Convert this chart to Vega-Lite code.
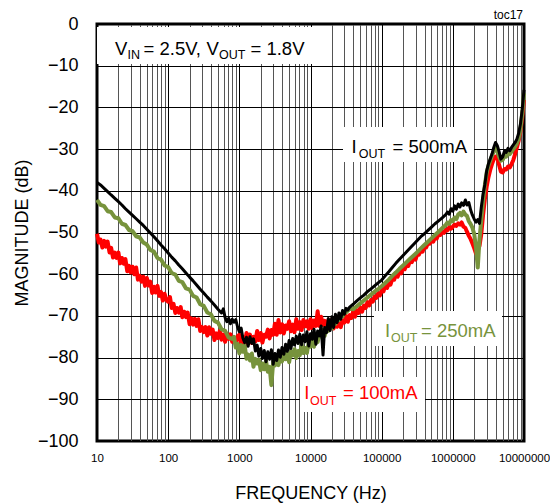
{
"$schema": "https://vega.github.io/schema/vega-lite/v6.json",
"width": 427, "height": 417,
"autosize": {"type": "none"},
"padding": {"left": 97, "top": 24, "right": 26, "bottom": 63},
"background": "white",
"config": {"font": "Liberation Sans", "view": {"stroke": "black", "strokeWidth": 3}},
"datasets": {
"boxes": [{"f":10,"f2":11570,"v":-0.72,"v2":-9.59},{"f":28630,"f2":1984000,"v":-24.7,"v2":-33.1},{"f":78030,"f2":4910000,"v":-68.8,"v2":-77.2},{"f":7120,"f2":406300,"v":-84.65,"v2":-93.05}],
"tm": [{"f":17.9,"v":-7.36,"t":"V","g":"vin"},{"f":45.03,"v":-7.36,"t":"= 2.5V,","g":"vin"},{"f":345.6,"v":-7.36,"t":"V","g":"vin"},{"f":1435,"v":-7.36,"t":"= 1.8V","g":"vin"},{"f":37800,"v":-30.94,"t":"I","g":"500"},{"f":142000,"v":-30.94,"t":"= 500mA","g":"500"},{"f":111400,"v":-75.06,"t":"I","g":"250"},{"f":357000,"v":-75.06,"t":"= 250mA","g":"250"},{"f":8180,"v":-89.93,"t":"I","g":"100"},{"f":28620,"v":-89.93,"t":"= 100mA","g":"100"}],
"ts": [{"f":26.83,"v":-8.32,"t":"IN","g":"vin"},{"f":517.9,"v":-8.32,"t":"OUT","g":"vin"},{"f":47600,"v":-32.13,"t":"OUT","g":"500"},{"f":135300,"v":-76.26,"t":"OUT","g":"250"},{"f":9840,"v":-91.25,"t":"OUT","g":"100"}],
"toc": [{"f":9680000,"v":1.2,"t":"toc17"}],
"b": [{"f":10,"v":-38},{"f":11.2,"v":-38.6},{"f":12.6,"v":-39.4},{"f":14.1,"v":-40.2},{"f":15.8,"v":-41},{"f":17.8,"v":-41.8},{"f":20,"v":-42.6},{"f":22.4,"v":-43.4},{"f":25.1,"v":-44.3},{"f":28.2,"v":-45.1},{"f":31.6,"v":-45.9},{"f":35.5,"v":-46.7},{"f":39.8,"v":-47.5},{"f":44.7,"v":-48.3},{"f":50.1,"v":-49.2},{"f":56.2,"v":-50.1},{"f":63.1,"v":-51},{"f":70.8,"v":-52},{"f":79.4,"v":-53},{"f":89.1,"v":-53.9},{"f":100,"v":-54.9},{"f":112,"v":-55.9},{"f":126,"v":-56.8},{"f":141,"v":-57.8},{"f":158,"v":-58.7},{"f":178,"v":-59.7},{"f":200,"v":-60.7},{"f":224,"v":-61.6},{"f":251,"v":-62.6},{"f":282,"v":-63.6},{"f":316,"v":-64.5},{"f":355,"v":-65.5},{"f":398,"v":-66.4},{"f":447,"v":-67.4},{"f":501,"v":-68.4},{"f":562,"v":-69.3},
{"f":596,"v":-68.3},{"f":631,"v":-70.4},{"f":668,"v":-71.4},{"f":708,"v":-70.6},{"f":750,"v":-71.9},{"f":794,"v":-70.8},{"f":841,"v":-71.5},{"f":891,"v":-70.9},{"f":944,"v":-72.6},{"f":1000,"v":-73.8},{"f":1060,"v":-72.9},{"f":1120,"v":-75.3},{"f":1190,"v":-76.4},{"f":1260,"v":-75.1},{"f":1330,"v":-77.3},{"f":1410,"v":-75},{"f":1500,"v":-76.6},{"f":1580,"v":-75.5},{"f":1680,"v":-78.4},{"f":1780,"v":-77},{"f":1880,"v":-79.6},{"f":2000,"v":-77.8},{"f":2110,"v":-80.2},{"f":2240,"v":-78.3},{"f":2370,"v":-81},{"f":2510,"v":-78.6},{"f":2660,"v":-80.4},{"f":2820,"v":-78.1},{"f":2990,"v":-81.6},{"f":3160,"v":-79},{"f":3350,"v":-80.7},{"f":3550,"v":-78.2},{"f":3760,"v":-79.9},{"f":3980,"v":-77.6},{"f":4220,"v":-79.2},{"f":4470,"v":-76.8},{"f":4730,"v":-78.5},{"f":5010,"v":-75.9},{"f":5310,"v":-77.8},{"f":5620,"v":-75.4},{"f":5960,"v":-77},{"f":6310,"v":-74.9},{"f":6680,"v":-76.6},{"f":7080,"v":-74.4},{"f":7500,"v":-76.9},{"f":7940,"v":-74.6},{"f":8410,"v":-76.2},{"f":8910,"v":-73.8},{"f":9440,"v":-77.2},{"f":10000,"v":-74.3},{"f":10600,"v":-75.6},{"f":11200,"v":-73.2},{"f":11900,"v":-76.8},{"f":12600,"v":-73.6},{"f":13300,"v":-74.8},{"f":14100,"v":-72.4},{"f":15000,"v":-79.4},{"f":15800,"v":-72.8},{"f":16800,"v":-74},{"f":17800,"v":-70.6},{"f":18800,"v":-73.5},{"f":20000,"v":-70.2},{"f":21100,"v":-72.8},{"f":22400,"v":-69.6},{"f":23700,"v":-71.6},{"f":25100,"v":-69.3},{"f":26600,"v":-70.8},{"f":28200,"v":-68.7},{"f":29900,"v":-69.6},{"f":31600,"v":-68.2},{"f":33500,"v":-68.6},{"f":35500,"v":-67.9},
{"f":39800,"v":-67.2},{"f":44700,"v":-66.4},{"f":50100,"v":-65.7},{"f":56200,"v":-65},{"f":63100,"v":-64.2},{"f":70800,"v":-63.5},{"f":79400,"v":-62.8},{"f":89100,"v":-62.1},{"f":100000,"v":-61.4},{"f":112000,"v":-60.4},{"f":126000,"v":-59.4},{"f":141000,"v":-58.4},{"f":158000,"v":-57.4},{"f":178000,"v":-56.4},{"f":200000,"v":-55.5},{"f":224000,"v":-54.6},{"f":251000,"v":-53.7},{"f":282000,"v":-52.8},{"f":316000,"v":-51.9},{"f":355000,"v":-51},{"f":398000,"v":-50.3},{"f":447000,"v":-49.5},{"f":501000,"v":-48.7},{"f":562000,"v":-47.9},{"f":631000,"v":-47.2},{"f":708000,"v":-46.5},{"f":794000,"v":-45.7},
{"f":841000,"v":-45.1},{"f":891000,"v":-45.6},{"f":944000,"v":-44.3},{"f":1000000,"v":-44.9},{"f":1060000,"v":-43.6},{"f":1120000,"v":-44.4},{"f":1190000,"v":-43.2},{"f":1260000,"v":-43.9},{"f":1330000,"v":-42.9},{"f":1410000,"v":-43.5},{"f":1500000,"v":-42.2},{"f":1580000,"v":-43.4},{"f":1680000,"v":-42.8},{"f":1780000,"v":-44.6},{"f":1880000,"v":-45.8},{"f":2000000,"v":-46.8},{"f":2110000,"v":-47.5},{"f":2240000,"v":-46.9},{"f":2370000,"v":-47.8},{"f":2510000,"v":-44},{"f":2660000,"v":-40.8},{"f":2820000,"v":-38.5},{"f":2990000,"v":-35.2},{"f":3160000,"v":-33.6},{"f":3350000,"v":-32.4},{"f":3550000,"v":-31.2},{"f":3760000,"v":-29.6},{"f":3980000,"v":-28.4},{"f":4220000,"v":-29.2},{"f":4470000,"v":-30.6},{"f":4730000,"v":-32.4},{"f":5010000,"v":-31.9},{"f":5310000,"v":-30.5},{"f":5620000,"v":-30.8},{"f":5960000,"v":-29.8},{"f":6310000,"v":-30.4},{"f":6680000,"v":-29.6},{"f":7080000,"v":-29},{"f":7500000,"v":-28.4},{"f":7940000,"v":-27.6},{"f":8410000,"v":-26.2},{"f":8910000,"v":-24},{"f":9440000,"v":-20.5},{"f":10000000,"v":-15.8}],
"g": [{"f":10,"v":-42.2},{"f":11.2,"v":-43.4},{"f":12.6,"v":-43.7},{"f":14.1,"v":-44.9},{"f":15.8,"v":-45.1},{"f":17.8,"v":-46.4},{"f":20,"v":-46.6},{"f":22.4,"v":-47.9},{"f":25.1,"v":-48.2},{"f":28.2,"v":-49.4},{"f":31.6,"v":-49.7},{"f":35.5,"v":-50.9},{"f":39.8,"v":-51.2},{"f":44.7,"v":-52.4},{"f":50.1,"v":-52.9},{"f":56.2,"v":-54.2},{"f":63.1,"v":-54.6},{"f":70.8,"v":-56.1},{"f":79.4,"v":-56.5},{"f":89.1,"v":-57.9},{"f":100,"v":-58.3},{"f":112,"v":-59.7},{"f":126,"v":-60.1},{"f":141,"v":-61.6},{"f":158,"v":-61.9},{"f":178,"v":-63.4},{"f":200,"v":-63.7},{"f":224,"v":-65.2},{"f":251,"v":-65.6},{"f":282,"v":-67.2},{"f":316,"v":-67.6},{"f":355,"v":-69.2},{"f":398,"v":-69.6},{"f":447,"v":-71.2},{"f":501,"v":-71.6},{"f":562,"v":-73.2},{"f":631,"v":-73.6},{"f":708,"v":-75.2},{"f":794,"v":-75.5},
{"f":841,"v":-75},{"f":891,"v":-77.6},{"f":944,"v":-76.7},{"f":1000,"v":-79},{"f":1060,"v":-77},{"f":1120,"v":-78.6},{"f":1190,"v":-77.1},{"f":1260,"v":-80.3},{"f":1330,"v":-79.3},{"f":1410,"v":-80.7},{"f":1500,"v":-79},{"f":1580,"v":-82.2},{"f":1680,"v":-80.3},{"f":1780,"v":-81.4},{"f":1880,"v":-80.5},{"f":2000,"v":-83},{"f":2110,"v":-81.4},{"f":2240,"v":-82.8},{"f":2370,"v":-80.8},{"f":2510,"v":-83.4},{"f":2660,"v":-82.2},{"f":2820,"v":-86.6},{"f":2990,"v":-81},{"f":3160,"v":-81.9},{"f":3350,"v":-79.9},{"f":3550,"v":-81.8},{"f":3760,"v":-80},{"f":3980,"v":-80.9},{"f":4220,"v":-78.5},{"f":4470,"v":-80.4},{"f":4730,"v":-79},{"f":5010,"v":-81.1},{"f":5310,"v":-78.6},{"f":5620,"v":-79.5},{"f":5960,"v":-78},{"f":6310,"v":-80.1},{"f":6680,"v":-78.4},{"f":7080,"v":-79.4},{"f":7500,"v":-76.8},{"f":7940,"v":-78.9},{"f":8410,"v":-77.7},{"f":8910,"v":-78.9},{"f":9440,"v":-76.3},{"f":10000,"v":-77.4},{"f":10600,"v":-76},{"f":11200,"v":-77.4},{"f":11900,"v":-74.5},{"f":12600,"v":-76.3},{"f":13300,"v":-74.5},{"f":14100,"v":-74.9},{"f":15000,"v":-73.3},{"f":15800,"v":-74.8},{"f":16800,"v":-73},{"f":17800,"v":-73.6},{"f":18800,"v":-71.5},{"f":20000,"v":-73},{"f":21100,"v":-71.5},{"f":22400,"v":-71.9},{"f":23700,"v":-70.3},{"f":25100,"v":-71},{"f":26600,"v":-69.7},{"f":28200,"v":-70.1},{"f":29900,"v":-69.2},{"f":31600,"v":-69.2},{"f":33500,"v":-68.7},{"f":35500,"v":-68.3},
{"f":39800,"v":-68.4},{"f":44700,"v":-67.7},{"f":50100,"v":-67},{"f":56200,"v":-66.3},{"f":63100,"v":-65.6},{"f":70800,"v":-64.9},{"f":79400,"v":-64.2},{"f":89100,"v":-63.6},{"f":100000,"v":-62.9},{"f":112000,"v":-62.1},{"f":126000,"v":-61.3},{"f":141000,"v":-60.4},{"f":158000,"v":-59.6},{"f":178000,"v":-58.7},{"f":200000,"v":-57.9},{"f":224000,"v":-57.1},{"f":251000,"v":-56.3},{"f":282000,"v":-55.5},{"f":316000,"v":-54.7},{"f":355000,"v":-53.8},{"f":398000,"v":-53},{"f":447000,"v":-52.2},{"f":501000,"v":-51.4},{"f":562000,"v":-50.6},{"f":631000,"v":-49.8},{"f":708000,"v":-49},{"f":794000,"v":-48.2},
{"f":841000,"v":-47.6},{"f":891000,"v":-47.9},{"f":944000,"v":-47},{"f":1000000,"v":-47.3},{"f":1060000,"v":-46.4},{"f":1120000,"v":-46.8},{"f":1190000,"v":-45.7},{"f":1260000,"v":-45.3},{"f":1330000,"v":-45.9},{"f":1410000,"v":-45},{"f":1500000,"v":-45.7},{"f":1580000,"v":-46},{"f":1680000,"v":-47.3},{"f":1780000,"v":-48},{"f":1880000,"v":-48.8},{"f":2000000,"v":-50.4},{"f":2110000,"v":-53.4},{"f":2240000,"v":-58.4},{"f":2370000,"v":-51.6},{"f":2510000,"v":-47},{"f":2660000,"v":-42.4},{"f":2820000,"v":-38.6},{"f":2990000,"v":-35.6},{"f":3160000,"v":-34},{"f":3350000,"v":-32.8},{"f":3550000,"v":-31.6},{"f":3760000,"v":-30.5},{"f":3980000,"v":-29.8},{"f":4220000,"v":-30.6},{"f":4470000,"v":-31.8},{"f":4730000,"v":-32.8},{"f":5010000,"v":-32.6},{"f":5310000,"v":-31.6},{"f":5620000,"v":-31.8},{"f":5960000,"v":-31},{"f":6310000,"v":-31.2},{"f":6680000,"v":-30.6},{"f":7080000,"v":-30},{"f":7500000,"v":-29.4},{"f":7940000,"v":-28.6},{"f":8410000,"v":-27.4},{"f":8910000,"v":-25.2},{"f":9440000,"v":-21.5},{"f":10000000,"v":-16.6}],
"r": [{"f":10,"v":-50.3},{"f":10.6,"v":-52.4},{"f":11.2,"v":-51.7},{"f":11.9,"v":-53.6},{"f":12.6,"v":-52},{"f":13.3,"v":-53.4},{"f":14.1,"v":-52.2},{"f":15,"v":-54.8},{"f":15.8,"v":-53.7},{"f":16.8,"v":-56},{"f":17.8,"v":-54.8},{"f":18.8,"v":-56.1},{"f":20,"v":-54.8},{"f":21.1,"v":-57.4},{"f":22.4,"v":-56.1},{"f":23.7,"v":-57.5},{"f":25.1,"v":-56.4},{"f":26.6,"v":-59.3},{"f":28.2,"v":-58},{"f":29.9,"v":-59.6},{"f":31.6,"v":-58.2},{"f":33.5,"v":-60},{"f":35.5,"v":-58.4},{"f":37.6,"v":-61.3},{"f":39.8,"v":-60.4},{"f":42.2,"v":-61.8},{"f":44.7,"v":-60.6},{"f":47.3,"v":-62.8},{"f":50.1,"v":-60.9},{"f":53.1,"v":-62.7},{"f":56.2,"v":-61.8},{"f":59.6,"v":-64.5},{"f":63.1,"v":-63},{"f":66.8,"v":-64.4},{"f":70.8,"v":-62.8},{"f":75,"v":-65.2},{"f":79.4,"v":-64.3},{"f":84.1,"v":-66.3},{"f":89.1,"v":-64.7},{"f":94.4,"v":-66.2},
{"f":100,"v":-66.6},{"f":106,"v":-65.5},{"f":112,"v":-68.1},{"f":119,"v":-67.1},{"f":126,"v":-69.3},{"f":133,"v":-68.1},{"f":141,"v":-69.2},{"f":150,"v":-67.9},{"f":158,"v":-70.3},{"f":168,"v":-69},{"f":178,"v":-70.3},{"f":188,"v":-69.2},{"f":200,"v":-72},{"f":211,"v":-70.6},{"f":224,"v":-72.1},{"f":237,"v":-70.7},{"f":251,"v":-72.4},{"f":266,"v":-70.8},{"f":282,"v":-73.6},{"f":299,"v":-72.7},{"f":316,"v":-73.9},{"f":335,"v":-72.7},{"f":355,"v":-74.7},{"f":376,"v":-72.7},{"f":398,"v":-74.3},{"f":422,"v":-73.3},{"f":447,"v":-75.8},{"f":473,"v":-74.2},{"f":501,"v":-75.3},{"f":531,"v":-73.6},{"f":562,"v":-75.7},{"f":596,"v":-74.5},{"f":631,"v":-76.2},{"f":668,"v":-74.3},{"f":708,"v":-75.5},{"f":750,"v":-74.4},{"f":794,"v":-76.2},{"f":841,"v":-75.3},{"f":891,"v":-76.8},{"f":944,"v":-74.9},
{"f":1000,"v":-74.5},{"f":1060,"v":-76.6},{"f":1120,"v":-75.1},{"f":1190,"v":-77},{"f":1260,"v":-74.1},{"f":1330,"v":-75.9},{"f":1410,"v":-74.5},{"f":1500,"v":-76.5},{"f":1580,"v":-75},{"f":1680,"v":-76.1},{"f":1780,"v":-73.6},{"f":1880,"v":-75.8},{"f":2000,"v":-74.1},{"f":2110,"v":-76.4},{"f":2240,"v":-74.5},{"f":2370,"v":-75},{"f":2510,"v":-73.3},{"f":2660,"v":-75.4},{"f":2820,"v":-73.4},{"f":2990,"v":-74.5},{"f":3160,"v":-71.9},{"f":3350,"v":-74.5},{"f":3550,"v":-71},{"f":3760,"v":-74},{"f":3980,"v":-72},{"f":4220,"v":-74.2},{"f":4470,"v":-72.3},{"f":4730,"v":-73.1},{"f":5010,"v":-71.3},{"f":5310,"v":-73.7},{"f":5620,"v":-72.1},{"f":5960,"v":-73.9},{"f":6310,"v":-70.8},{"f":6680,"v":-73.1},{"f":7080,"v":-71.5},{"f":7500,"v":-73.4},{"f":7940,"v":-71},{"f":8410,"v":-72.5},{"f":8910,"v":-71.3},{"f":9440,"v":-73.1},
{"f":10000,"v":-70.8},{"f":10600,"v":-72.9},{"f":11200,"v":-71.1},{"f":11900,"v":-72.4},{"f":12600,"v":-68.9},{"f":13300,"v":-72.4},{"f":14100,"v":-70.2},{"f":15000,"v":-72.2},{"f":15800,"v":-71.2},{"f":16800,"v":-73.1},{"f":17800,"v":-71},{"f":18800,"v":-72.2},{"f":20000,"v":-70.9},{"f":21100,"v":-73},{"f":22400,"v":-71.4},{"f":23700,"v":-72.6},{"f":25100,"v":-70.9},{"f":26600,"v":-72.7},{"f":28200,"v":-71.1},{"f":29900,"v":-71.6},{"f":31600,"v":-70},{"f":33500,"v":-71.4},{"f":35500,"v":-69.8},{"f":37600,"v":-70.5},{"f":39800,"v":-68.9},{"f":42200,"v":-70.2},{"f":44700,"v":-68.6},{"f":47300,"v":-69.3},{"f":50100,"v":-68},{"f":53100,"v":-69},{"f":56200,"v":-67.5},{"f":59600,"v":-68.1},{"f":63100,"v":-66.7},{"f":66800,"v":-67.5},{"f":70800,"v":-66.2},{"f":75000,"v":-66.6},{"f":79400,"v":-65.3},{"f":84100,"v":-65.7},{"f":89100,"v":-64.6},{"f":94400,"v":-65.1},
{"f":100000,"v":-63.8},{"f":106000,"v":-64.1},{"f":112000,"v":-62.8},{"f":119000,"v":-63.3},{"f":126000,"v":-62.2},{"f":133000,"v":-62.5},{"f":141000,"v":-61.1},{"f":150000,"v":-61.3},{"f":158000,"v":-60.1},{"f":168000,"v":-60.6},{"f":178000,"v":-59.4},{"f":188000,"v":-59.8},{"f":200000,"v":-58.5},{"f":211000,"v":-58.8},{"f":224000,"v":-57.8},{"f":237000,"v":-58},{"f":251000,"v":-56.7},{"f":266000,"v":-57.1},{"f":282000,"v":-56},{"f":299000,"v":-56.5},{"f":316000,"v":-55.2},{"f":335000,"v":-55.3},{"f":355000,"v":-54.2},{"f":376000,"v":-54.6},{"f":398000,"v":-53.4},{"f":422000,"v":-53.6},{"f":447000,"v":-52.5},{"f":473000,"v":-52.7},{"f":501000,"v":-51.8},{"f":531000,"v":-52.2},{"f":562000,"v":-51.2},{"f":596000,"v":-51.4},{"f":631000,"v":-50.4},{"f":668000,"v":-50.6},{"f":708000,"v":-49.8},{"f":750000,"v":-50.1},{"f":794000,"v":-49.3},{"f":841000,"v":-49.5},{"f":891000,"v":-48.7},{"f":944000,"v":-49.1},
{"f":1000000,"v":-48.6},{"f":1060000,"v":-48.1},{"f":1120000,"v":-48.4},{"f":1190000,"v":-47.8},{"f":1260000,"v":-48.1},{"f":1330000,"v":-47.6},{"f":1410000,"v":-48.6},{"f":1500000,"v":-48.9},{"f":1580000,"v":-49.8},{"f":1680000,"v":-50.8},{"f":1780000,"v":-51.6},{"f":1880000,"v":-52.6},{"f":2000000,"v":-53.8},{"f":2110000,"v":-55},{"f":2240000,"v":-54.3},{"f":2370000,"v":-53.2},{"f":2510000,"v":-50.4},{"f":2660000,"v":-45.8},{"f":2820000,"v":-42},{"f":2990000,"v":-39},{"f":3160000,"v":-36.8},{"f":3350000,"v":-35},{"f":3550000,"v":-33.6},{"f":3760000,"v":-32.4},{"f":3980000,"v":-31.8},{"f":4220000,"v":-32.2},{"f":4470000,"v":-33.8},{"f":4730000,"v":-35.4},{"f":5010000,"v":-35.6},{"f":5310000,"v":-34.8},{"f":5620000,"v":-34.9},{"f":5960000,"v":-34.2},{"f":6310000,"v":-34.4},{"f":6680000,"v":-33.6},{"f":7080000,"v":-32.6},{"f":7500000,"v":-31.2},{"f":7940000,"v":-29.6},{"f":8410000,"v":-28},{"f":8910000,"v":-25.8},{"f":9440000,"v":-22.4},{"f":10000000,"v":-18.2}]
},
"encoding": {
"x": {"field": "f", "type": "quantitative", "scale": {"type": "log", "domain": [10, 10000000], "nice": false},
 "axis": {"values": [10,20,30,40,50,60,70,80,90,100,200,300,400,500,600,700,800,900,1000,2000,3000,4000,5000,6000,7000,8000,9000,10000,20000,30000,40000,50000,60000,70000,80000,90000,100000,200000,300000,400000,500000,600000,700000,800000,900000,1000000,2000000,3000000,4000000,5000000,6000000,7000000,8000000,9000000,10000000],
  "grid": true, "gridWidth": 1,
  "gridColor": {"condition": {"test": "abs(log(datum.value)/LN10 - round(log(datum.value)/LN10)) < 0.001", "value": "#000000"}, "value": "#555555"},
  "ticks": false, "tickSize": 0, "domain": false,
  "labelExpr": "abs(log(datum.value)/LN10 - round(log(datum.value)/LN10)) < 0.001 ? format(datum.value, 'd') : ''",
  "labelFontSize": 11.5, "labelPadding": 11, "labelFlush": false, "labelOverlap": false, "labelColor": "#000000",
  "title": "FREQUENCY (Hz)", "titleFontSize": 18, "titleFontWeight": "normal", "titleColor": "#000000",
  "titleX": 213.5, "titleY": 57, "titleAlign": "center", "titleBaseline": "alphabetic"}},
"y": {"field": "v", "type": "quantitative", "scale": {"domain": [-100, 0], "nice": false, "zero": false},
 "axis": {"values": [-100,-90,-80,-70,-60,-50,-40,-30,-20,-10,0],
  "grid": true, "gridColor": "#000000", "gridWidth": 1,
  "ticks": false, "tickSize": 0, "domain": false,
  "labelFontSize": 18, "labelPadding": 19, "labelColor": "#000000", "labelOverlap": false,
  "title": "MAGNITUDE (dB)", "titleFontSize": 18, "titleFontWeight": "normal", "titleColor": "#000000",
  "titleAngle": 270, "titleX": -70, "titleY": 208.5, "titleAlign": "center", "titleBaseline": "alphabetic"}}
},
"layer": [
{"data": {"name": "boxes"}, "mark": {"type": "rect", "fill": "white", "stroke": null}, "encoding": {"x2": {"field": "f2"}, "y2": {"field": "v2"}}},
{"data": {"name": "r"}, "mark": {"type": "line", "color": "#FF0000", "strokeWidth": 4, "strokeJoin": "round"}},
{"data": {"name": "g"}, "mark": {"type": "line", "color": "#77933C", "strokeWidth": 4, "strokeJoin": "round"}},
{"data": {"name": "b"}, "mark": {"type": "line", "color": "#000000", "strokeWidth": 3, "strokeJoin": "round"}},
{"data": {"name": "tm"}, "mark": {"type": "text", "align": "left", "baseline": "alphabetic", "fontSize": 18.5},
 "encoding": {"text": {"field": "t", "type": "nominal"}, "color": {"field": "g", "type": "nominal", "scale": {"domain": ["vin","500","250","100"], "range": ["#000000","#000000","#77933C","#FF0000"]}, "legend": null}}},
{"data": {"name": "ts"}, "mark": {"type": "text", "align": "left", "baseline": "alphabetic", "fontSize": 12.5},
 "encoding": {"text": {"field": "t", "type": "nominal"}, "color": {"field": "g", "type": "nominal", "scale": {"domain": ["vin","500","250","100"], "range": ["#000000","#000000","#77933C","#FF0000"]}, "legend": null}}},
{"data": {"name": "toc"}, "mark": {"type": "text", "align": "right", "baseline": "alphabetic", "fontSize": 12, "color": "#000000"},
 "encoding": {"text": {"field": "t", "type": "nominal"}}}
]
}
